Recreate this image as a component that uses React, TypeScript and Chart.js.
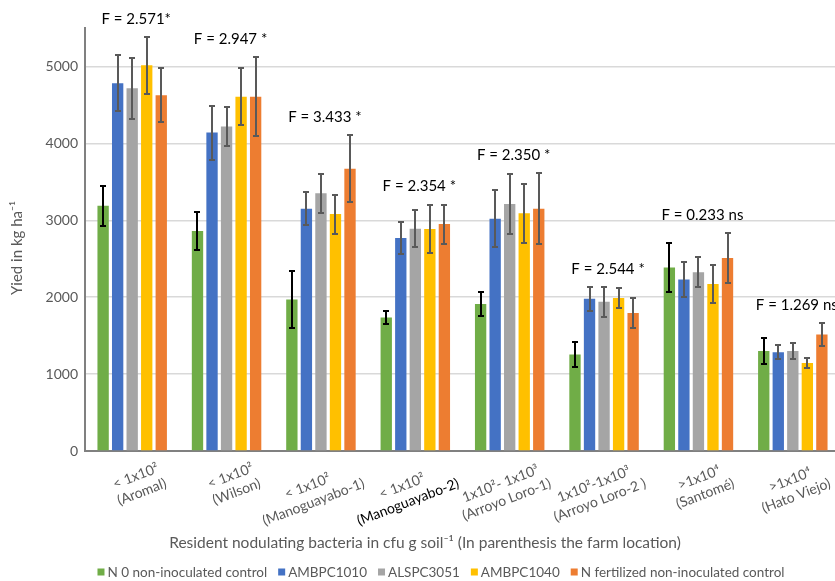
import React, { useEffect, useRef } from 'react';
import { Chart, registerables } from 'chart.js';

Chart.register(...registerables);

// ---------- data ----------
const densityLabels = ['< 1x10²', '< 1x10²', '< 1x10²', '< 1x10²', '1x10²- 1x10³', '1x10²-1x10³', '>1x10⁴', '>1x10⁴'];
const farmLabels = ['(Aromal)', '(Wilson)', '(Manoguayabo-1)', '(Manoguayabo-2)', '(Arroyo Loro-1)', '(Arroyo Loro-2 )', '(Santomé)', '(Hato Viejo)'];
const fLabels = ['F = 2.571*', 'F = 2.947 *', 'F = 3.433 *', 'F = 2.354 *', 'F = 2.350 *', 'F = 2.544 *', 'F = 0.233 ns', 'F = 1.269 ns'];

const seriesNames = ['N 0 non-inoculated control', 'AMBPC1010', 'ALSPC3051', 'AMBPC1040', 'N fertilized non-inoculated control'];

const n0Control = [3190, 2860, 1970, 1735, 1910, 1255, 2385, 1300];
const n0ControlErr = [260, 250, 375, 80, 160, 160, 320, 170];
const ambpc1010 = [4780, 4140, 3150, 2770, 3020, 1980, 2230, 1285];
const ambpc1010Err = [365, 350, 215, 210, 370, 155, 230, 95];
const alspc3051 = [4715, 4220, 3350, 2890, 3210, 1940, 2325, 1300];
const alspc3051Err = [400, 250, 255, 240, 390, 195, 195, 100];
const ambpc1040 = [5015, 4605, 3080, 2885, 3090, 1990, 2170, 1145];
const ambpc1040Err = [370, 370, 255, 310, 385, 125, 250, 65];
const nFertilized = [4625, 4605, 3670, 2950, 3150, 1795, 2510, 1515];
const nFertilizedErr = [350, 515, 435, 255, 465, 200, 325, 145];

const yTickValues = [0, 1000, 2000, 3000, 4000, 5000];
const yMin = 0;
const yMax = 5500;

const yTitle = 'Yied in kg ha⁻¹';
const xTitle = 'Resident nodulating bacteria in cfu g soil⁻¹ (In parenthesis the farm location)';

// ---------- styles ----------
const seriesValues = [n0Control, ambpc1010, alspc3051, ambpc1040, nFertilized];
const seriesErrors = [n0ControlErr, ambpc1010Err, alspc3051Err, ambpc1040Err, nFertilizedErr];
const seriesColors = ['#70AD47', '#4472C4', '#A5A5A5', '#FFC000', '#ED7D31'];
const errorColors = ['#000000', '#595959', '#595959', '#595959', '#595959'];
const highlightedFarmIndex = 3;

const FONT = 'Lato, "Noto Sans", sans-serif';
const TEXT_GRAY = '#595959';
const AXIS_GRAY = '#808080';

const overlay = {
  id: 'overlay',
  afterDatasetsDraw(chart: any) {
    const ctx = chart.ctx as CanvasRenderingContext2D;
    const yScale = chart.scales.y;
    ctx.save();
    chart.data.datasets.forEach((ds: any, di: number) => {
      const meta = chart.getDatasetMeta(di);
      const errs = seriesErrors[di];
      ctx.strokeStyle = errorColors[di];
      ctx.lineWidth = 2;
      meta.data.forEach((el: any, j: number) => {
        const v = ds.data[j];
        const e = errs[j];
        const yt = Math.round(yScale.getPixelForValue(v + e));
        const yb = Math.round(yScale.getPixelForValue(v - e));
        const x = Math.round(el.x);
        ctx.beginPath();
        ctx.moveTo(x, yt);
        ctx.lineTo(x, yb);
        ctx.moveTo(x - 3, yt);
        ctx.lineTo(x + 3, yt);
        ctx.moveTo(x - 3, yb);
        ctx.lineTo(x + 3, yb);
        ctx.stroke();
      });
    });
    ctx.restore();
  },
  afterDraw(chart: any) {
    const ctx = chart.ctx as CanvasRenderingContext2D;
    const xScale = chart.scales.x;
    const yScale = chart.scales.y;
    ctx.save();

    // F annotations
    ctx.font = `15px ${FONT}`;
    ctx.fillStyle = '#000';
    ctx.textAlign = 'center';
    ctx.textBaseline = 'middle';
    fLabels.forEach((t, j) => {
      let top = 0;
      seriesValues.forEach((vals, si) => {
        top = Math.max(top, vals[j] + seriesErrors[si][j]);
      });
      const x = xScale.getPixelForValue(j) + 4;
      const y = yScale.getPixelForValue(top) - 18;
      ctx.fillText(t, x, y);
    });

    // rotated category labels
    const deg = 21;
    const ang = (-deg * Math.PI) / 180;
    const s = Math.sin((deg * Math.PI) / 180);
    const c = Math.cos((deg * Math.PI) / 180);
    const lh = 17;
    ctx.font = `14px ${FONT}`;
    farmLabels.forEach((farm, j) => {
      const cx = xScale.getPixelForValue(j);
      const L = Math.max(ctx.measureText(densityLabels[j]).width, ctx.measureText(farm).width);
      const bx = cx + 22 - 0.3 * L;
      const by = xScale.top + 8 + (L / 2) * s + lh * c;
      ctx.save();
      ctx.translate(bx, by);
      ctx.rotate(ang);
      ctx.fillStyle = TEXT_GRAY;
      ctx.fillText(densityLabels[j], 0, -lh / 2);
      ctx.fillStyle = j === highlightedFarmIndex ? '#000' : TEXT_GRAY;
      ctx.fillText(farm, 0, lh / 2);
      ctx.restore();
    });

    // axis titles
    ctx.fillStyle = TEXT_GRAY;
    ctx.font = `15.5px ${FONT}`;
    ctx.fillText(xTitle, 425, 543);
    ctx.save();
    ctx.translate(17.5, 248);
    ctx.rotate(-Math.PI / 2);
    ctx.font = `15px ${FONT}`;
    ctx.fillText(yTitle, 0, 0);
    ctx.restore();

    // legend
    ctx.font = `13.5px ${FONT}`;
    ctx.textAlign = 'left';
    const box = 7;
    const boxGap = 3;
    const itemGap = 11;
    const widths = seriesNames.map((n) => box + boxGap + ctx.measureText(n).width);
    const total = widths.reduce((a, b) => a + b, 0) + itemGap * (widths.length - 1);
    let lx = 441 - total / 2;
    const ly = 573;
    seriesNames.forEach((n, i) => {
      ctx.fillStyle = seriesColors[i];
      ctx.fillRect(lx, ly - box / 2 - 1, box, box);
      ctx.fillStyle = TEXT_GRAY;
      ctx.fillText(n, lx + box + boxGap, ly);
      lx += widths[i] + itemGap;
    });

    ctx.restore();
  },
};

export default function App() {
  const ref = useRef<HTMLCanvasElement>(null);

  useEffect(() => {
    const canvas = ref.current as HTMLCanvasElement;
    const datasets = seriesValues.map((vals, i) => ({
      label: seriesNames[i],
      data: vals,
      backgroundColor: seriesColors[i],
      borderWidth: 0,
      categoryPercentage: 0.77,
      barPercentage: 0.78,
    }));
    const chart = new Chart(canvas, {
      type: 'bar',
      data: { labels: farmLabels, datasets },
      options: {
        responsive: false,
        maintainAspectRatio: false,
        animation: false,
        devicePixelRatio: 1,
        layout: { padding: { top: 28, right: 5, left: 0, bottom: 0 } },
        plugins: {
          legend: { display: false },
          tooltip: { enabled: false },
        },
        scales: {
          x: {
            ticks: { display: false },
            grid: { display: false },
            border: { display: true, color: AXIS_GRAY, width: 2 },
            afterFit: (sc: any) => {
              sc.height = 130;
            },
          },
          y: {
            min: yMin,
            max: yMax,
            afterBuildTicks: (sc: any) => {
              sc.ticks = [...yTickValues, yMax].map((v) => ({ value: v }));
            },
            ticks: {
              color: TEXT_GRAY,
              font: { family: FONT, size: 14 },
              padding: 7,
              callback: (v: any) => (v === yMax ? '' : String(v)),
            },
            grid: {
              color: (cx: any) => (cx.tick && cx.tick.value === yMax ? 'rgba(0,0,0,0)' : '#D9D9D9'),
              lineWidth: 1.5,
              drawTicks: false,
            },
            border: { display: true, color: AXIS_GRAY, width: 2 },
            afterFit: (sc: any) => {
              sc.width = 85;
            },
          },
        },
      },
      plugins: [overlay],
    } as any);
    return () => chart.destroy();
  }, []);

  return (
    <div style={{ position: 'fixed', left: 0, top: 0, width: 835, height: 581, overflow: 'hidden', background: '#fff' }}>
      <canvas ref={ref} width={845} height={581} style={{ display: 'block' }} />
    </div>
  );
}
